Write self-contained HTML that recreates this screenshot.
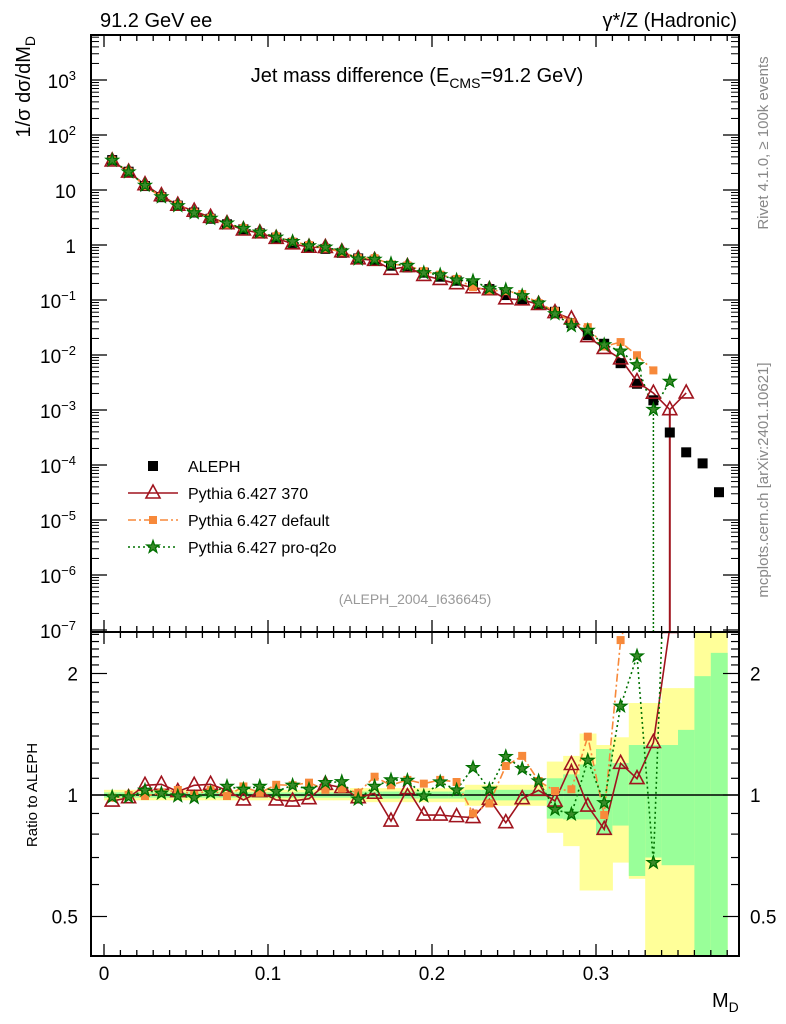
<!DOCTYPE html>
<html><head><meta charset="utf-8"><style>
body{margin:0;background:#fff;}
svg{display:block;font-family:"Liberation Sans",sans-serif;}
</style></head><body>
<svg id="chart" width="786" height="1024" viewBox="0 0 786 1024">
<defs>
<clipPath id="cm"><rect x="91" y="35" width="648" height="597"/></clipPath>
<clipPath id="cr"><rect x="91" y="632" width="648" height="324"/></clipPath>
</defs>
<g id="bands" clip-path="url(#cr)"></g>
<g id="main" clip-path="url(#cm)"></g>
<g id="ratio" clip-path="url(#cr)"></g>
<g id="axes"></g>
<text x="100" y="27" font-size="20">91.2 GeV ee</text>
<text x="737" y="27" font-size="20" text-anchor="end">γ*/Z (Hadronic)</text>
<text x="417" y="82" font-size="20" text-anchor="middle">Jet mass difference (E<tspan font-size="14" dy="6">CMS</tspan><tspan dy="-6">=91.2 GeV)</tspan></text>
<text x="415" y="604" font-size="14" fill="#999" text-anchor="middle">(ALEPH_2004_I636645)</text>
<text transform="translate(768,143) rotate(-90)" font-size="15" fill="#888" text-anchor="middle">Rivet 4.1.0, ≥ 100k events</text>
<text transform="translate(768,480) rotate(-90)" font-size="15" fill="#888" text-anchor="middle">mcplots.cern.ch [arXiv:2401.10621]</text>
<text transform="translate(30,36) rotate(-90)" font-size="20" text-anchor="end">1/σ  dσ/dM<tspan font-size="14" dy="5">D</tspan></text>
<text transform="translate(37,795) rotate(-90)" font-size="15" text-anchor="middle">Ratio to ALEPH</text>
<text x="712" y="1007" font-size="20">M<tspan font-size="14" dy="5">D</tspan></text>
<g id="legend"></g>
</svg>
<script>
const binCenters=[0.005,0.015,0.025,0.035,0.045,0.055,0.065,0.075,0.085,0.095,0.105,0.115,0.125,0.135,0.145,0.155,0.165,0.175,0.185,0.195,0.205,0.215,0.225,0.235,0.245,0.255,0.265,0.275,0.285,0.295,0.305,0.315,0.325,0.335,0.345,0.355,0.365,0.375];
const alephValues=[35,21.5,11.8,7.4,5.2,3.9,3.0,2.38,1.93,1.63,1.36,1.09,0.93,0.85,0.72,0.57,0.52,0.42,0.39,0.314,0.265,0.224,0.19,0.158,0.123,0.103,0.081,0.061,0.038,0.023,0.016,0.0071,0.0030,0.0015,0.00039,0.00017,0.000107,0.000032];
const ratio370=[0.966,0.985,1.057,1.063,1.02,1.057,1.063,1.027,0.972,1.02,0.972,0.966,0.979,1.063,1.043,0.985,1.01,0.862,1.037,0.892,0.892,0.884,0.879,0.976,0.854,0.979,1.027,0.966,1.19,0.939,0.822,1.198,1.098,1.35,2.6,12];
const ratioDefault=[0.985,1.0,0.994,1.013,1.029,1.0,1.03,0.994,1.05,1.013,1.06,1.057,1.073,1.03,1.037,1.013,1.11,1.057,1.09,1.067,1.09,1.077,0.90,0.953,1.18,1.25,1.083,1.023,1.033,1.395,0.892,2.42,3.3,3.5];
const ratioQ2o=[0.989,0.989,1.027,1.01,0.994,0.985,1.013,1.05,1.033,1.05,1.02,1.057,1.033,1.073,1.079,0.976,1.05,1.09,1.087,0.994,1.077,1.029,1.169,1.033,1.245,1.162,1.083,0.921,0.896,1.219,0.957,1.66,2.21,0.68,8.5];
const bandTotalUp=[1.03,1.03,1.03,1.03,1.03,1.03,1.03,1.03,1.03,1.03,1.03,1.03,1.03,1.03,1.03,1.04,1.04,1.04,1.04,1.04,1.04,1.04,1.06,1.06,1.06,1.06,1.06,1.21,1.25,1.42,1.33,1.39,1.69,1.69,1.84,1.84,3,3];
const bandTotalDn=[0.97,0.97,0.97,0.97,0.97,0.97,0.97,0.97,0.97,0.97,0.97,0.97,0.97,0.97,0.97,0.96,0.96,0.96,0.96,0.96,0.96,0.96,0.94,0.94,0.94,0.94,0.94,0.806,0.747,0.58,0.58,0.68,0.62,0.3,0.3,0.3,0.3,0.3];
const bandStatUp=[1.015,1.015,1.015,1.015,1.015,1.015,1.015,1.015,1.015,1.015,1.015,1.015,1.015,1.015,1.015,1.02,1.02,1.02,1.02,1.02,1.02,1.02,1.03,1.03,1.03,1.03,1.03,1.10,1.125,1.19,1.3,1.2,1.33,1.33,1.33,1.45,1.97,2.25];
const bandStatDn=[0.985,0.985,0.985,0.985,0.985,0.985,0.985,0.985,0.985,0.985,0.985,0.985,0.985,0.985,0.985,0.98,0.98,0.98,0.98,0.98,0.98,0.98,0.97,0.97,0.97,0.97,0.97,0.874,0.87,0.87,0.8,0.84,0.63,0.7,0.67,0.67,0.3,0.3];
const xTicks=[0,0.1,0.2,0.3];
const xTickLabels=["0","0.1","0.2","0.3"];
const yDecades=[-7,-6,-5,-4,-3,-2,-1,0,1,2,3];
const yDecadeLabels=["10<tspan dy='-8' font-size='13'>−7</tspan>","10<tspan dy='-8' font-size='13'>−6</tspan>","10<tspan dy='-8' font-size='13'>−5</tspan>","10<tspan dy='-8' font-size='13'>−4</tspan>","10<tspan dy='-8' font-size='13'>−3</tspan>","10<tspan dy='-8' font-size='13'>−2</tspan>","10<tspan dy='-8' font-size='13'>−1</tspan>","1","10","10<tspan dy='-8' font-size='13'>2</tspan>","10<tspan dy='-8' font-size='13'>3</tspan>"];
const ratioTickLabels=[0.5,1,2];

const NS="http://www.w3.org/2000/svg";
const L=91,R=739,MT=35,MB=632,RB=956;
const xS=v=>104+v*1640;
const yM=v=>245-55*Math.log10(v);
const yR=r=>795-121.5*Math.log2(r);
const BW=0.01;
function mk(tag,attrs,parent){const e=document.createElementNS(NS,tag);for(const k in attrs)e.setAttribute(k,attrs[k]);parent.appendChild(e);return e;}
const gB=document.getElementById('bands'),gM=document.getElementById('main'),gR=document.getElementById('ratio'),gA=document.getElementById('axes'),gL=document.getElementById('legend');

binCenters.forEach((c,i)=>{
  let x0=xS(c-BW/2),x1=xS(c+BW/2);
  let e=mk('rect',{x:x0,y:yR(bandTotalUp[i]),width:x1-x0+0.5,height:yR(bandTotalDn[i])-yR(bandTotalUp[i]),fill:'#ffff99'},gB);
  
  
  let f=mk('rect',{x:x0,y:yR(bandStatUp[i]),width:x1-x0+0.5,height:yR(bandStatDn[i])-yR(bandStatUp[i]),fill:'#99ff99'},gB);
  
  
});
let one=mk('line',{x1:L,x2:R,y1:yR(1),y2:yR(1),stroke:'#000','stroke-width':1.5},gR);



function marker(type,x,y,g,name){
  let e;
  if(type==='sq') e=mk('rect',{x:x-5,y:y-5,width:10,height:10,fill:'#000'},g);
  else if(type==='osq') e=mk('rect',{x:x-4,y:y-4,width:8,height:8,fill:'#f7893a'},g);
  else if(type==='tri') e=mk('polygon',{points:`${x},${y-8} ${x-7},${y+5} ${x+7},${y+5}`,fill:'none',stroke:'#a0141e','stroke-width':1.6},g);
  else {let p=[];for(let k=0;k<10;k++){let a=-Math.PI/2+k*Math.PI/5,r=k%2?2.6:6.5;p.push((x+r*Math.cos(a)).toFixed(1)+','+(y+r*Math.sin(a)).toFixed(1));}
    e=mk('polygon',{points:p.join(' '),fill:'#3a8a2a',stroke:'#007000','stroke-width':1.3},g);}
  
  
}
const series=[
 {r:ratio370,type:'tri',stroke:'#a0141e',dash:'',name:'pythia-370'},
 {r:ratioDefault,type:'osq',stroke:'#f7893a',dash:'8,3,2,3',name:'pythia-default'},
 {r:ratioQ2o,type:'star',stroke:'#007000',dash:'2,3',name:'pythia-pro-q2o'}
];
let eb=mk('line',{x1:xS(0.345),x2:xS(0.345),y1:yM(0.001),y2:MB,stroke:'#a0141e','stroke-width':2},gM);


let eb2=mk('line',{x1:xS(0.335),x2:xS(0.335),y1:yM(0.001),y2:MB,stroke:'#007000','stroke-width':1.5,'stroke-dasharray':'2,2'},gM);



series.forEach(s=>{
  let ptsM=s.r.map((r,i)=>xS(binCenters[i])+','+yM(r*alephValues[i])).join(' ');
  let pl=mk('polyline',{points:ptsM,fill:'none',stroke:s.stroke,'stroke-width':1.6,'stroke-dasharray':s.dash},gM);
  
  
  let ptsR=s.r.map((r,i)=>xS(binCenters[i])+','+yR(r)).join(' ');
  let pr=mk('polyline',{points:ptsR,fill:'none',stroke:s.stroke,'stroke-width':1.6,'stroke-dasharray':s.dash},gR);
  
  
});
alephValues.forEach((v,i)=>marker('sq',xS(binCenters[i]),yM(v),gM,'aleph-point'));
series.forEach(s=>{
  s.r.forEach((r,i)=>{
    marker(s.type,xS(binCenters[i]),yM(r*alephValues[i]),gM,s.name+'-point');
    marker(s.type,xS(binCenters[i]),yR(r),gR,s.name+'-ratio-point');
  });
});

[[MT,MB],[MB,RB]].forEach(([t,b])=>{mk('rect',{x:L,y:t,width:R-L,height:b-t,fill:'none',stroke:'#000','stroke-width':2},gA);});
for(let k=0;k<=38;k++){
  let v=k*0.01,x=xS(v);if(x>R)break;
  let len=k%10===0?12:6;
  [[MT,1],[MB,-1],[MB,1],[RB,-1]].forEach(([y,d])=>mk('line',{x1:x,x2:x,y1:y,y2:y+d*len,stroke:'#000','stroke-width':1.3},gA));
}
xTicks.forEach((v,i)=>{let t=mk('text',{x:xS(v),y:980,'font-size':19,'text-anchor':'middle'},gA);t.textContent=xTickLabels[i];
  
  });
yDecades.forEach((d,i)=>{
  let y=yM(Math.pow(10,d));
  [[L,1],[R,-1]].forEach(([x,s])=>mk('line',{x1:x,x2:x+s*16,y1:y,y2:y,stroke:'#000','stroke-width':1.3},gA));
  for(let m=2;m<=9;m++){let yy=yM(m*Math.pow(10,d));if(yy<MT)continue;
    [[L,1],[R,-1]].forEach(([x,s])=>mk('line',{x1:x,x2:x+s*8,y1:yy,y2:yy,stroke:'#000','stroke-width':1},gA));}
  let t=mk('text',{x:76,y:y+8,'font-size':19,'text-anchor':'end'},gA);t.innerHTML=yDecadeLabels[i];
  
  
});
for(let k=4;k<=25;k++){let r=k/10,y=yR(r);if(y<MB||y>RB)continue;
  let len=(k===5||k===10||k===20)?16:8;
  [[L,1],[R,-1]].forEach(([x,s])=>mk('line',{x1:x,x2:x+s*len,y1:y,y2:y,stroke:'#000','stroke-width':1.2},gA));}
ratioTickLabels.forEach(r=>{
  let t=mk('text',{x:78,y:yR(r)+7,'font-size':19,'text-anchor':'end'},gA);t.textContent=String(r);
  
  
  let t2=mk('text',{x:750,y:yR(r)+7,'font-size':19},gA);t2.textContent=String(r);
  
  
});
const legNames=['ALEPH','Pythia 6.427 370','Pythia 6.427 default','Pythia 6.427 pro-q2o'];
const legTypes=['sq','tri','osq','star'];
const legStroke=[null,'#a0141e','#f7893a','#007000'];
const legDash=['','','8,3,2,3','2,3'];
legNames.forEach((n,i)=>{
  let y=466+i*27;
  if(legStroke[i]){let l=mk('line',{x1:128,x2:178,y1:y,y2:y,stroke:legStroke[i],'stroke-width':1.6,'stroke-dasharray':legDash[i]},gL);
    
    }
  marker(legTypes[i],153,y,gL,'legend-marker');
  let t=mk('text',{x:188,y:y+6,'font-size':16},gL);t.textContent=n;
  
  
});
</script>
</body></html>
